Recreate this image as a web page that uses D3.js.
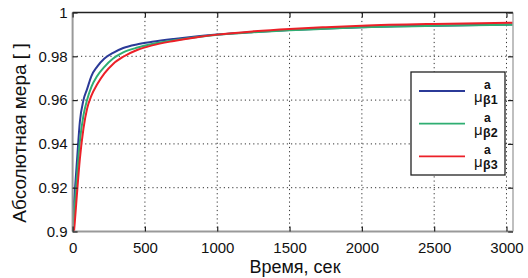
<!DOCTYPE html>
<html>
<head>
<meta charset="utf-8">
<script src="https://cdn.jsdelivr.net/npm/d3@7"></script>
<style>
  body { margin: 0; background: #fff; }
  svg { display: block; font-family: "Liberation Sans", Arial, sans-serif; }
</style>
</head>
<body>
<svg id="chart" width="528" height="278"></svg>
<script>
// time, s
const time = [0, 5, 15, 30, 50, 75, 100, 130, 170, 220, 280, 350, 450, 550, 700, 850, 1000, 1250, 1500, 1750, 2000, 2500, 3050]
// absolute measure for each series
const mu1 = [0.895, 0.908, 0.918, 0.932, 0.950, 0.960, 0.965, 0.9710, 0.9753, 0.9790, 0.9816, 0.9838, 0.9855, 0.9866, 0.9879, 0.9890, 0.9899, 0.9911, 0.9920, 0.9927, 0.9933, 0.9940, 0.9945]
const mu2 = [0.892, 0.902, 0.912, 0.925, 0.941, 0.953, 0.960, 0.966, 0.971, 0.9752, 0.9790, 0.9818, 0.9840, 0.9856, 0.9873, 0.9887, 0.9898, 0.9910, 0.9919, 0.9926, 0.9933, 0.9939, 0.9944]
const mu3 = [0.890, 0.896, 0.904, 0.917, 0.933, 0.947, 0.956, 0.962, 0.9672, 0.9722, 0.9765, 0.9798, 0.9830, 0.9850, 0.9870, 0.9886, 0.9899, 0.9914, 0.9925, 0.9933, 0.9940, 0.9948, 0.9953]
const seriesNames = ['1', '2', '3']
const xTicks = [0, 500, 1000, 1500, 2000, 2500, 3000]
const yTicks = [0.9, 0.92, 0.94, 0.96, 0.98, 1]

const colors = ['#2b3a98', '#2fae72', '#ec2028']

const svg = d3.select('#chart')
const margin = { left: 72.6, top: 12.5, right: 15, bottom: 46.5 }
const W = 528, H = 278
const x0 = margin.left, x1 = W - margin.right
const y0 = margin.top, y1 = H - margin.bottom

const x = d3.scaleLinear().domain([0, 3045]).range([x0, x1])
const y = d3.scaleLinear().domain([0.9, 1]).range([y1, y0])

svg.append('defs').append('clipPath').attr('id', 'clip')
  .append('rect').attr('x', x0).attr('y', y0).attr('width', x1 - x0).attr('height', y1 - y0)

// grid
const grid = svg.append('g').attr('stroke', '#333').attr('stroke-width', 1).attr('stroke-dasharray', '1.2,3')
grid.selectAll('.gx').data(xTicks.slice(1)).enter().append('line')
  .attr('x1', d => x(d)).attr('x2', d => x(d)).attr('y1', y0).attr('y2', y1)
grid.selectAll('.gy').data(yTicks.slice(1, -1)).enter().append('line')
  .attr('x1', x0).attr('x2', x1).attr('y1', d => y(d)).attr('y2', d => y(d))

// curves
const all = [mu1, mu2, mu3]
const line = d3.line()
  .x((d, i) => x(time[i]))
  .y(d => y(d))
  .curve(d3.curveMonotoneX)

svg.append('g').attr('clip-path', 'url(#clip)')
  .selectAll('path').data(all).enter().append('path')
  .attr('d', line)
  .attr('fill', 'none')
  .attr('stroke', (d, i) => colors[i])
  .attr('stroke-width', 2)

// frame
svg.append('line').attr('x1', x0).attr('x2', x1).attr('y1', y0).attr('y2', y0).attr('stroke', '#222').attr('stroke-width', 1.5)
svg.append('line').attr('x1', x0).attr('x2', x0).attr('y1', y0).attr('y2', y1).attr('stroke', '#999').attr('stroke-width', 2)
svg.append('line').attr('x1', x0).attr('x2', x1).attr('y1', y1).attr('y2', y1).attr('stroke', '#999').attr('stroke-width', 2)
svg.append('line').attr('x1', x1).attr('x2', x1).attr('y1', y0).attr('y2', y1).attr('stroke', '#aaa').attr('stroke-width', 1.5)

// axes with inward ticks
const xAxis = svg.append('g').attr('transform', `translate(0,${y1})`)
  .call(d3.axisBottom(x).tickValues(xTicks).tickSize(-5).tickPadding(11).tickFormat(d3.format('d')))
const yAxis = svg.append('g').attr('transform', `translate(${x0},0)`)
  .call(d3.axisLeft(y).tickValues(yTicks).tickSize(-5).tickPadding(5).tickFormat(d => d === 1 ? '1' : d3.format('.2~f')(d)))
const xTop = svg.append('g').attr('transform', `translate(0,${y0})`)
  .call(d3.axisTop(x).tickValues(xTicks).tickSize(-5).tickFormat(''))
const yRight = svg.append('g').attr('transform', `translate(${x1},0)`)
  .call(d3.axisRight(y).tickValues(yTicks).tickSize(-5).tickFormat(''))

;[xAxis, yAxis, xTop, yRight].forEach(a => {
  a.select('.domain').remove()
  a.selectAll('.tick line').attr('stroke', '#222').attr('stroke-width', 1.2)
  a.selectAll('text').attr('font-size', 15).attr('fill', '#111').attr('font-family', '"Liberation Sans", Arial, sans-serif')
})

// titles
svg.append('text').attr('x', 295).attr('y', 273).attr('text-anchor', 'middle')
  .attr('font-size', 18).attr('fill', '#111').text('Время, сек')
svg.append('text').attr('transform', 'translate(26,133) rotate(-90)').attr('text-anchor', 'middle')
  .attr('font-size', 19).attr('fill', '#111').text('Абсолютная мера [ ]')

// legend
const lg = svg.append('g')
lg.append('rect').attr('x', 411).attr('y', 72).attr('width', 94).attr('height', 103)
  .attr('fill', '#fff').attr('stroke', '#222').attr('stroke-width', 1.3)
const item = lg.selectAll('.item').data(seriesNames).enter().append('g')
  .attr('transform', (d, i) => `translate(0,${91 + i * 32.7})`)
item.append('line').attr('x1', 419).attr('x2', 465).attr('y1', 0).attr('y2', 0)
  .attr('stroke', (d, i) => colors[i]).attr('stroke-width', 1.8)
item.append('text').attr('x', 474).attr('y', 11).attr('font-size', 15).attr('fill', '#111').text('μ')
item.append('text').attr('x', 483).attr('y', 13).attr('font-size', 12.5).attr('font-weight', 'bold').attr('fill', '#111').text(d => 'β' + d)
item.append('text').attr('x', 484).attr('y', -2).attr('font-size', 12).attr('font-weight', 'bold').attr('fill', '#111').text('a')
</script>
</body>
</html>
